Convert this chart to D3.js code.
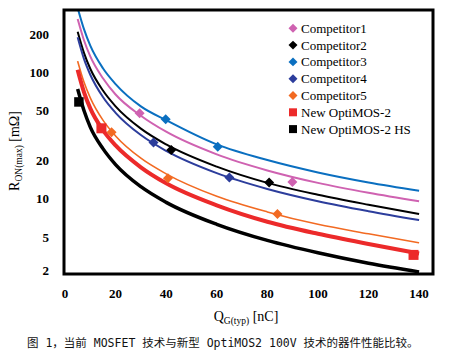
<!DOCTYPE html>
<html>
<head>
<meta charset="utf-8">
<script src="https://cdn.jsdelivr.net/npm/d3@7"></script>
<style>
  html, body { margin: 0; padding: 0; background: #fff; }
  svg { display: block; }
</style>
</head>
<body>
<svg width="450" height="352"></svg>
<script>
// Q_G(typ) в точках, где сняты значения кривых
const qGrid = [5, 7.5, 10, 15, 20, 30, 40, 60, 80, 100, 120, 140];

// R_ON(max) по кривым (мОм)
const comp1Curve = [265, 180, 134, 90, 67, 45.5, 34, 22.5, 16.8, 13.4, 11.2, 9.6];
const comp2Curve = [210, 143, 107, 72, 54, 36, 27, 18, 13.4, 10.8, 9.0, 7.6];
const comp3Curve = [324, 220, 163, 108, 81, 54, 42, 27, 20.3, 16.2, 13.5, 11.6];
const comp4Curve = [190, 128, 96, 64, 48, 32, 24, 16, 12, 9.6, 8.0, 6.8];
const comp5Curve = [123, 84, 63, 42, 31.5, 21, 15.8, 10.5, 7.9, 6.3, 5.3, 4.5];
const optiCurve  = [105, 70, 52, 35, 26.5, 17.8, 13.3, 8.9, 6.6, 5.3, 4.4, 3.7];
const optiHsCurve = [74, 50, 37, 25, 18.7, 12.5, 9.4, 6.3, 4.7, 3.75, 3.1, 2.65];

// маркеры [Q, R]
const comp1Points = [[29.5, 47.6], [89.9, 13.6]];
const comp2Points = [[42, 24.4], [80.7, 13.5]];
const comp3Points = [[39.8, 42.7], [60.4, 25.9]];
const comp4Points = [[35, 27.9], [65, 14.8]];
const comp5Points = [[18.4, 33.7], [40.7, 14.6], [84, 7.61]];
const optiPoints = [[14.4, 36.2], [137.8, 3.61]];
const optiHsPoints = [[5.5, 58.5]];

const seriesNames = ["Competitor1", "Competitor2", "Competitor3", "Competitor4",
                     "Competitor5", "New OptiMOS-2", "New OptiMOS-2 HS"];

// подписи осей
const xTicks = [0, 20, 40, 60, 80, 100, 120, 140];
const yTicks = [2.7, 5, 10, 20, 50, 100, 200];
const yTickLabels = ["2", "5", "10", "20", "50", "100", "200"];

const caption = "图 1，当前 MOSFET 技术与新型 OptiMOS2 100V 技术的器件性能比较。";

const series = [
    {name: seriesNames[0], color: "#cf62b1", width: 2,   curve: comp1Curve, points: comp1Points, shape: "diamond"},
    {name: seriesNames[1], color: "#000000", width: 2,   curve: comp2Curve, points: comp2Points, shape: "diamond"},
    {name: seriesNames[2], color: "#0a6fc0", width: 2,   curve: comp3Curve, points: comp3Points, shape: "diamond"},
    {name: seriesNames[3], color: "#2c3d9c", width: 2,   curve: comp4Curve, points: comp4Points, shape: "diamond"},
    {name: seriesNames[4], color: "#f26a22", width: 1.6, curve: comp5Curve, points: comp5Points, shape: "diamond"},
    {name: seriesNames[5], color: "#ec2a2a", width: 4,   curve: optiCurve,  points: optiPoints,  shape: "square"},
    {name: seriesNames[6], color: "#000000", width: 3.5, curve: optiHsCurve, points: optiHsPoints, shape: "squareHs"}
];

const svg = d3.select("svg");

let attr_area = {left: 65, right: 433, top: 10, bottom: 274};

const scX = d3.scaleLinear().domain([0, 145.5]).range([attr_area.left, attr_area.right]);
const scY = d3.scaleLog().domain([2.55, 312]).range([attr_area.bottom, attr_area.top]);

const serif = "'Liberation Serif', 'Times New Roman', serif";

// область отсечения
svg.append("clipPath").attr("id", "plot")
    .append("rect")
    .attr("x", attr_area.left - 1).attr("y", attr_area.top)
    .attr("width", attr_area.right - attr_area.left + 1)
    .attr("height", attr_area.bottom - attr_area.top);

// кривые
const line = d3.line()
    .x(d => scX(d[0]))
    .y(d => scY(d[1]))
    .curve(d3.curveMonotoneX);

const gLines = svg.append("g").attr("clip-path", "url(#plot)");
series.forEach(s => {
    gLines.append("path")
        .datum(qGrid.map((q, i) => [q, s.curve[i]]))
        .attr("d", line)
        .attr("fill", "none")
        .attr("stroke", s.color)
        .attr("stroke-width", s.width);
});

function symbolPath(shape, legend) {
    if (shape === "diamond") return d3.symbol(d3.symbolSquare, legend ? 40 : 50)();
    if (shape === "square") return d3.symbol(d3.symbolSquare, legend ? 64 : 100)();
    return d3.symbol(d3.symbolSquare, legend ? 64 : 90)();
}

// маркеры
series.forEach(s => {
    svg.append("g").selectAll("path")
        .data(s.points)
        .enter()
        .append("path")
        .attr("d", symbolPath(s.shape, false))
        .attr("transform", d => `translate(${scX(d[0])}, ${scY(d[1])})` +
                                (s.shape === "diamond" ? " rotate(45)" : ""))
        .attr("fill", s.color);
});

// рамка
svg.append("rect")
    .attr("x", attr_area.left - 1).attr("y", attr_area.top)
    .attr("width", attr_area.right - attr_area.left + 1)
    .attr("height", attr_area.bottom - attr_area.top)
    .attr("fill", "none")
    .attr("stroke", "#000")
    .attr("stroke-width", 3);

// подписи делений
svg.append("g").selectAll("text")
    .data(xTicks)
    .enter()
    .append("text")
    .attr("x", d => scX(d))
    .attr("y", 298)
    .attr("text-anchor", "middle")
    .style("font", `bold 13px ${serif}`)
    .text(d => d);

svg.append("g").selectAll("text")
    .data(yTicks)
    .enter()
    .append("text")
    .attr("x", 49)
    .attr("y", d => scY(d) + 4.5)
    .attr("text-anchor", "end")
    .style("font", `bold 13px ${serif}`)
    .text((d, i) => yTickLabels[i]);

// заголовки осей
const yTitle = svg.append("text")
    .attr("transform", "translate(19, 151) rotate(-90)")
    .attr("text-anchor", "middle")
    .style("font", `14px ${serif}`);
yTitle.append("tspan").text("R");
yTitle.append("tspan").attr("dy", 3).style("font-size", "9.5px").text("ON(max)");
yTitle.append("tspan").attr("dy", -3).text(" [mΩ]");

const xTitle = svg.append("text")
    .attr("x", 246).attr("y", 321)
    .attr("text-anchor", "middle")
    .style("font", `14px ${serif}`);
xTitle.append("tspan").text("Q");
xTitle.append("tspan").attr("dy", 3).style("font-size", "9.5px").text("G(typ)");
xTitle.append("tspan").attr("dy", -3).text(" [nC]");

// легенда
const legend = svg.append("g").selectAll("g")
    .data(series)
    .enter()
    .append("g")
    .attr("transform", (d, i) => `translate(293, ${28.3 + i * 16.8})`);

legend.append("path")
    .attr("d", d => symbolPath(d.shape, true))
    .attr("transform", d => d.shape === "diamond" ? "rotate(45)" : "")
    .attr("fill", d => d.color);

legend.append("text")
    .attr("x", 8)
    .attr("y", 4.5)
    .style("font", `13px ${serif}`)
    .text(d => d.name);

// подпись рисунка
svg.append("text")
    .attr("x", 27).attr("y", 347)
    .style("font-family", "'DejaVu Sans Mono', 'Noto Sans CJK SC', monospace")
    .style("font-size", "11.5px")
    .style("white-space", "pre")
    .attr("fill", "#111")
    .text(caption);
</script>
</body>
</html>
